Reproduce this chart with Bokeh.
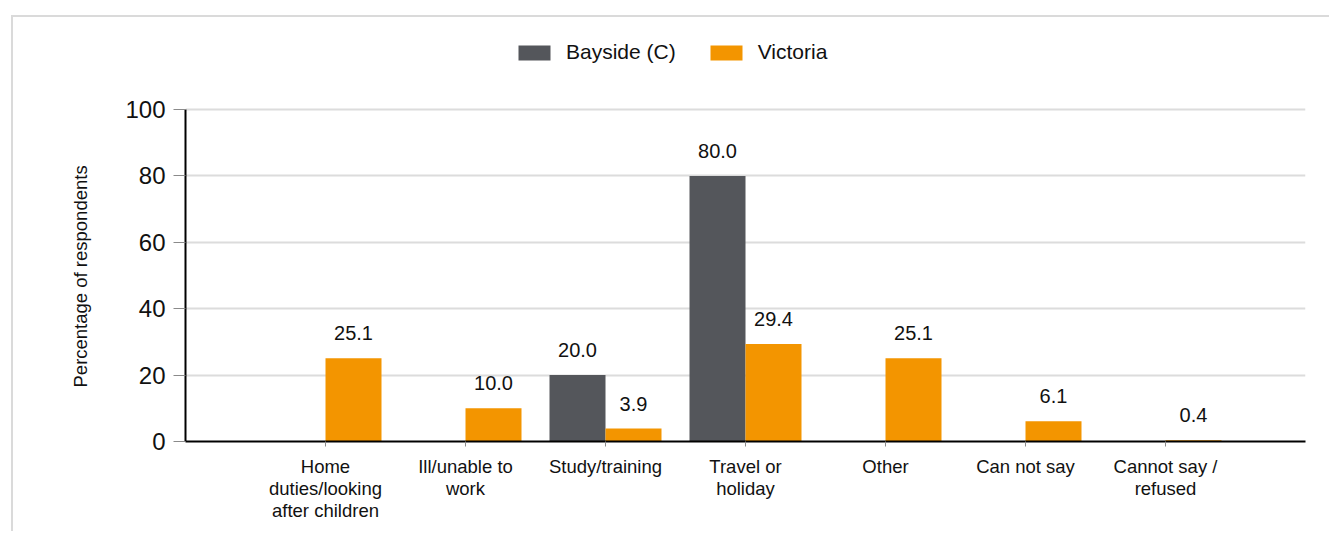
from bokeh.plotting import figure
from bokeh.models import ColumnDataSource, FactorRange, FixedTicker, Legend, LegendItem, Title
from bokeh.transform import dodge
from bokeh.core.properties import value
from bokeh.embed import file_html
from bokeh.resources import INLINE

categories = ["Home\nduties/looking\nafter children", "Ill/unable to\nwork", "Study/training",
              "Travel or\nholiday", "Other", "Can not say", "Cannot say /\nrefused"]
bayside = [float("nan"), float("nan"), 20.0, 80.0, float("nan"), float("nan"), float("nan")]
victoria = [25.1, 10.0, 3.9, 29.4, 25.1, 6.1, 0.4]
series_names = ["Bayside (C)", "Victoria"]
y_ticks = [0, 20, 40, 60, 80, 100]
y_title = "Percentage of respondents"

FONT = "Liberation Sans"
GREY = "#54565b"
ORANGE = "#f39500"

src = ColumnDataSource(dict(
    cat=categories,
    bay=bayside,
    vic=victoria,
    bay_lbl=["" if v != v else f"{v:.1f}" for v in bayside],
    vic_lbl=[f"{v:.1f}" for v in victoria],
))

# the frame extends above 100 to leave room for the legend; the axis is bounded to 0-100
p = figure(
    x_range=FactorRange(*categories, range_padding=1/7),
    y_range=(0, 125.3),
    width=1318, height=516,
    min_border_left=172, min_border_right=26, min_border_top=8, min_border_bottom=92,
    output_backend="svg", toolbar_location=None,
    styles={"margin-left": "11px", "margin-top": "15px",
            "border-left": "2px solid #dadada", "border-top": "2px solid #dadada"},
)
p.outline_line_color = None
p.background_fill_color = "white"
p.border_fill_color = "white"

r_bay = p.vbar(x=dodge("cat", -0.2, range=p.x_range), top="bay", width=0.4, source=src,
               fill_color=GREY, line_color=None)
r_vic = p.vbar(x=dodge("cat", 0.2, range=p.x_range), top="vic", width=0.4, source=src,
               fill_color=ORANGE, line_color=None)

for col, off in (("bay", -0.2), ("vic", 0.2)):
    p.text(x=dodge("cat", off, range=p.x_range), y=col, text=col + "_lbl", source=src,
           text_align="center", text_baseline="alphabetic", y_offset=-25,
           text_font=value(FONT), text_font_size="20px", text_color="#111111")

# axes
p.xgrid.grid_line_color = None
p.ygrid.grid_line_color = "#dcdcdc"
p.ygrid.grid_line_width = 2

p.yaxis.ticker = FixedTicker(ticks=y_ticks)
p.yaxis.bounds = (0, 100)
p.yaxis.major_label_text_font = FONT
p.yaxis.major_label_text_font_size = "24px"
p.yaxis.major_label_text_color = "#111111"
p.yaxis.major_label_standoff = 8
p.yaxis.major_tick_out = 12
p.yaxis.major_tick_in = 0
p.yaxis.major_tick_line_color = "#8a8a8a"
p.yaxis.minor_tick_line_color = None
p.yaxis.axis_line_color = "black"
p.yaxis.axis_line_width = 2

# y-axis title, anchored at the bottom of the 0-100 span
p.add_layout(Title(text=y_title, align="left", offset=54, standoff=64,
                   text_font=FONT, text_font_size="18.5px", text_font_style="normal",
                   text_color="#111111"), "left")

p.xaxis.major_label_text_font = FONT
p.xaxis.major_label_text_font_size = "18.5px"
p.xaxis.major_label_text_line_height = 1.06
p.xaxis.major_label_text_color = "#111111"
p.xaxis.major_label_standoff = 9
p.xaxis.major_tick_out = 5
p.xaxis.major_tick_in = 0
p.xaxis.major_tick_line_color = "#8a8a8a"
p.xaxis.axis_line_color = "black"
p.xaxis.axis_line_width = 2

legend = Legend(
    items=[LegendItem(label=series_names[0], renderers=[r_bay]),
           LegendItem(label=series_names[1], renderers=[r_vic])],
    orientation="horizontal", location=(329, 377),
    glyph_width=40, glyph_height=19, label_standoff=12, spacing=30,
    padding=0, margin=0, border_line_color=None, background_fill_alpha=0,
    label_text_font=FONT, label_text_font_size="21px", label_text_color="#111111",
)
p.add_layout(legend, "center")

open("out.html", "w").write(file_html(p, INLINE))
